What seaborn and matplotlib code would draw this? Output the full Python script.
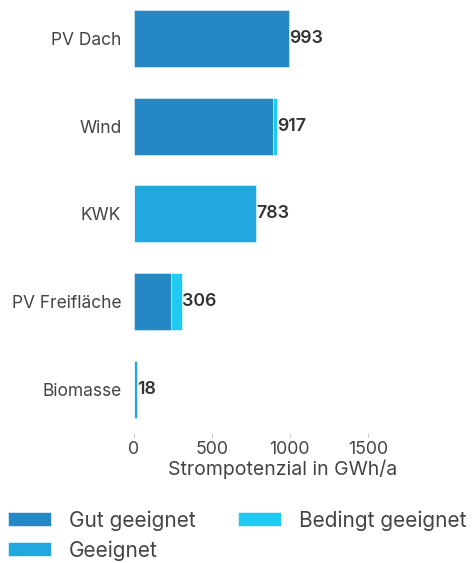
import pandas as pd
import matplotlib.pyplot as plt
import seaborn as sns
from matplotlib.patches import Patch

sns.set_theme(style="white")
plt.rcParams['font.family'] = ['Inter', 'DejaVu Sans']

# Daten
kategorien = ['PV Dach', 'Wind', 'KWK', 'PV Freifläche', 'Biomasse']
gut_geeignet = [993, 890, 0, 235, 0]
geeignet = [0, 0, 783, 0, 18]
bedingt_geeignet = [0, 27, 0, 71, 0]
serien = ['Gut geeignet', 'Geeignet', 'Bedingt geeignet']
farben = ['#2687C5', '#22A8DF', '#1CCAF2']

df = pd.DataFrame({
    'Kategorie': kategorien,
    'Gut geeignet': gut_geeignet,
    'Geeignet': geeignet,
    'Bedingt geeignet': bedingt_geeignet,
})
df['s1'] = df['Gut geeignet']
df['s2'] = df['s1'] + df['Geeignet']
df['s3'] = df['s2'] + df['Bedingt geeignet']

fig = plt.figure(figsize=(4.73, 5.63), dpi=100)
ax = fig.add_axes([0.283, 0.231, 0.630, 0.771])

# gestapelt: zuerst Gesamtsumme, dann darueber die Teilsummen
for spalte, farbe in zip(['s3', 's2', 's1'], farben[::-1]):
    sns.barplot(data=df, x=spalte, y='Kategorie', order=kategorien, orient='h',
                color=farbe, saturation=1, width=0.65, edgecolor='white',
                linewidth=0.4, ax=ax)

for i, total in enumerate(df['s3']):
    ax.text(total + 3, i, f"{total:.0f}", va='center', ha='left',
            fontsize=12.8, fontweight='semibold', color='#333333')

ax.set_xlim(0, 1910)
ax.set_ylim(4.5, -0.45)
ax.set_xticks([0, 500, 1000, 1500])
ax.tick_params(axis='x', length=3, width=0.6, color='#bbbbbb', labelsize=12.8,
               labelcolor='#444444', pad=3, bottom=True)
ax.tick_params(axis='y', length=0, labelsize=12.5, labelcolor='#444444', pad=9)
ax.set_xlabel('Strompotenzial in GWh/a', fontsize=14, color='#444444', labelpad=1)
ax.set_ylabel('')
sns.despine(ax=ax, left=True, bottom=True)

handles = [Patch(facecolor=f, edgecolor='white', linewidth=0.4) for f in farben]
fig.legend(handles, serien, ncol=2, loc='lower left', bbox_to_anchor=(-0.008, -0.016),
           frameon=False, fontsize=15, handlelength=2.1, handleheight=0.65,
           handletextpad=0.85, columnspacing=2.0, labelspacing=0.45,
           labelcolor='#444444', borderaxespad=0.15)

plt.savefig('out.png', dpi=100)
